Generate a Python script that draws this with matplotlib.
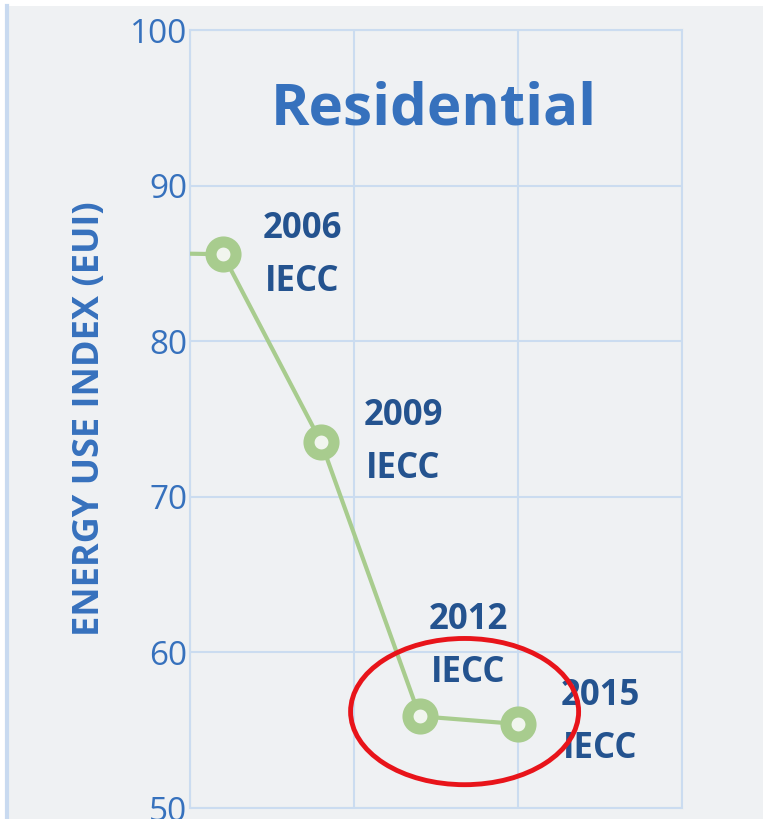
import matplotlib.pyplot as plt
from matplotlib.patches import Ellipse

# data
years = [2003, 2006, 2009, 2012, 2015]
eui = [85.7, 85.6, 73.5, 55.9, 55.4]
code_labels = ["", "2006\nIECC", "2009\nIECC", "2012\nIECC", "2015\nIECC"]
label_offsets = [(0, 0), (57, -1), (59, 0), (35, 50), (59, 1)]  # points

bg = "#eff1f3"
blue = "#3671bd"
dark_blue = "#24538f"
green = "#a8cc8e"
grid_col = "#cbdcf0"

plt.rcParams['font.family'] = ['Open Sans', 'DejaVu Sans']

fig = plt.figure(figsize=(7.63, 8.19), dpi=100, facecolor="white")
# light panel with blue edge on the left
panel = fig.add_axes([0.009, -0.01, 1.0, 1.003])
panel.set_facecolor(bg)
panel.set_xticks([])
panel.set_yticks([])
for s in ["top", "right", "bottom"]:
    panel.spines[s].set_visible(False)
panel.spines["left"].set_color("#c9daf0")
panel.spines["left"].set_linewidth(3)

ax = fig.add_axes([0.249, 0.0134, 0.645, 0.9497])
ax.set_facecolor(bg)
ax.plot(years, eui, color=green, lw=3, marker="o", ms=18, mew=8,
        mfc="#f1f5ee", mec=green, clip_on=True, zorder=3)

for x, y, lab, off in zip(years, eui, code_labels, label_offsets):
    if lab:
        ax.annotate(lab, (x, y), xytext=off, textcoords="offset points",
                    ha="center", va="center", fontsize=25, fontweight="bold",
                    color=dark_blue, linespacing=1.62, zorder=4)

ax.add_patch(Ellipse((2013.37, 56.2), 6.95, 9.4, fill=False,
                     edgecolor="#e8141a", lw=3.5, zorder=5, clip_on=False))

ax.text(0.495, 0.898, "Residential", transform=ax.transAxes, ha="center",
        va="center", fontsize=42, fontweight="bold", color=blue)

ax.set_xlim(2005, 2020)
ax.set_ylim(50, 100)
ax.set_xticks([2005, 2010, 2015, 2020])
ax.set_yticks([50, 60, 70, 80, 90, 100])
ax.tick_params(axis="x", length=0, labelbottom=False)
ax.tick_params(axis="y", length=0, labelsize=24, labelcolor=blue, pad=2)
ax.grid(True, color=grid_col, lw=1.5)
for s in ax.spines.values():
    s.set_color(grid_col)
    s.set_linewidth(1.5)

ax.set_ylabel("ENERGY USE INDEX (EUI)", fontsize=26, fontweight="bold",
              color=blue, labelpad=16)

fig.savefig("out.png", dpi=100, facecolor="white")
